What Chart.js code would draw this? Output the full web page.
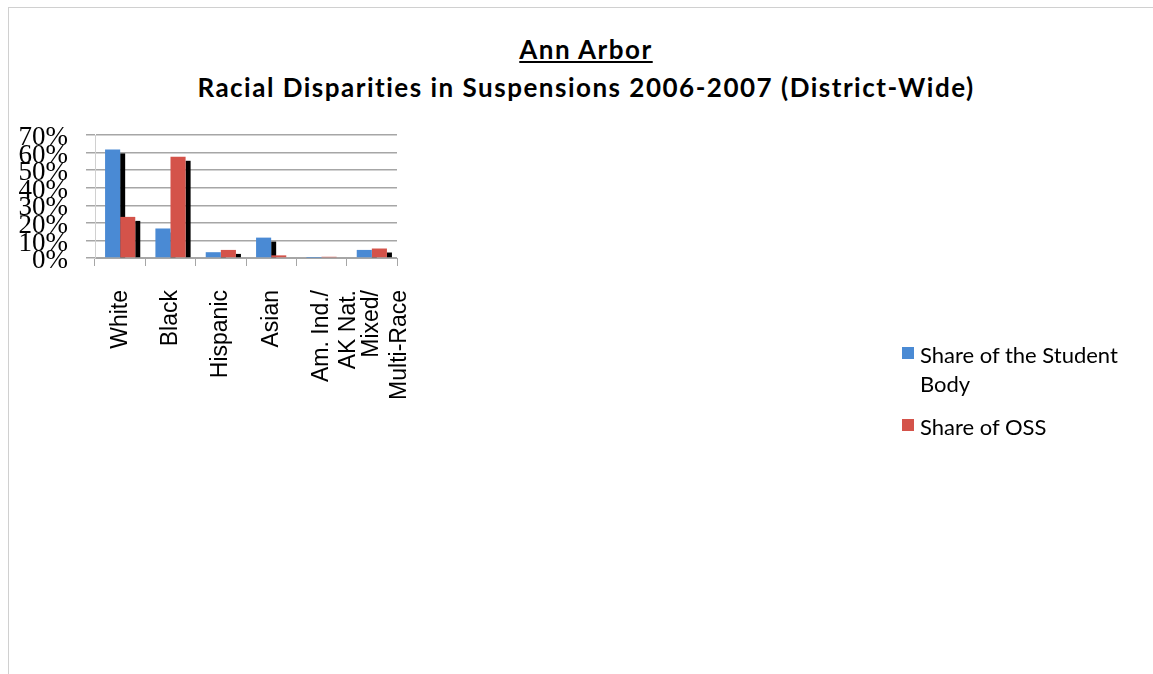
<!DOCTYPE html>
<html>
<head>
<meta charset="utf-8">
<script src="https://cdn.jsdelivr.net/npm/chart.js@4/dist/chart.umd.min.js"></script>
<style>
  html, body { margin: 0; padding: 0; background: #fff; }
  body { width: 1153px; height: 674px; position: relative; overflow: hidden; }
  #frame { position: absolute; left: 8px; top: 7px; width: 1200px; height: 700px; border: 1px solid #d0d0d0; }
  #title { position: absolute; left: 0; width: 1172px; top: 30px; text-align: center;
           font-family: Lato, "Open Sans", sans-serif; font-weight: bold; font-size: 26px; letter-spacing: 1.5px;
           line-height: 38px; color: #000; }
  #title .main { text-decoration: underline; }
  #wrap { position: absolute; left: 0; top: 0; width: 1153px; height: 398px; }
  #legend { position: absolute; left: 902px; top: 340px; width: 235px;
            font-family: Lato, "Open Sans", sans-serif; font-size: 22px; color: #000; }
  #legend .item { position: relative; padding-left: 18px; line-height: 29px; margin-bottom: 14px; }
  #legend .sw { position: absolute; left: 0; top: 7px; width: 12px; height: 12px; }
</style>
</head>
<body>
<div id="frame"></div>
<div id="title"><div class="main">Ann Arbor</div><div>Racial Disparities in Suspensions 2006-2007 (District-Wide)</div></div>
<div id="wrap"><canvas id="chart"></canvas></div>
<div id="legend"></div>
<script>
// categories and values (percent)
const categories = ['White', 'Black', 'Hispanic', 'Asian', ['Am. Ind./', 'AK Nat.'], ['Mixed/', 'Multi-Race']];
const studentBody = [61.8, 16.8, 3.3, 11.6, 0.1, 4.6];
const ossShare = [23.4, 57.6, 4.6, 1.5, 0.7, 5.4];
const yTicks = [0, 10, 20, 30, 40, 50, 60, 70];

const seriesNames = ['Share of the Student Body', 'Share of OSS'];
const seriesColors = ['#4a8ad4', '#d4534a'];

// black side face of the 3d bars
const shadowPlugin = {
  id: 'barShadow',
  beforeDatasetsDraw(chart) {
    const ctx = chart.ctx;
    ctx.save();
    ctx.fillStyle = '#000';
    chart.getSortedVisibleDatasetMetas().forEach(meta => {
      meta.data.forEach(bar => {
        const p = bar.getProps(['x', 'y', 'base', 'width'], true);
        const top = p.y + 4;
        if (p.base - top <= 0) return;
        ctx.fillRect(p.x + p.width / 2, top, 5, p.base - top);
      });
    });
    ctx.restore();
  }
};

new Chart(document.getElementById('chart'), {
  type: 'bar',
  data: {
    labels: categories,
    datasets: [
      { label: seriesNames[0], data: studentBody, backgroundColor: seriesColors[0] },
      { label: seriesNames[1], data: ossShare, backgroundColor: seriesColors[1] }
    ]
  },
  options: {
    responsive: true,
    maintainAspectRatio: false,
    animation: false,
    layout: { padding: { left: 0, right: 756, top: 135, bottom: 0 } },
    categoryPercentage: 0.6,
    barPercentage: 1.0,
    plugins: {
      legend: { display: false },
      title: { display: false },
      tooltip: { enabled: false }
    },
    scales: {
      x: {
        afterFit(scale) { scale.height = 140; },
        grid: { offset: true, drawOnChartArea: false, tickLength: 8, color: '#a6a6a6' },
        border: { color: '#a6a6a6' },
        ticks: {
          autoSkip: false, minRotation: 90, maxRotation: 90, padding: 24,
          color: '#000', font: { family: '"Liberation Sans", Arial, sans-serif', size: 23, lineHeight: 1.2 }
        }
      },
      y: {
        min: 0, max: 70,
        afterFit(scale) { scale.width = 95; },
        afterBuildTicks(scale) { scale.ticks = yTicks.map(v => ({ value: v })); },
        grid: { tickLength: 9, color: '#a6a6a6', lineWidth: 1.5 },
        border: { color: '#d0d0d0' },
        ticks: {
          autoSkip: false, padding: 18, labelOffset: 3, color: '#000',
          font: { family: '"Liberation Serif", "Times New Roman", serif', size: 27, lineHeight: 1 },
          callback: v => v + '%'
        }
      }
    }
  },
  plugins: [shadowPlugin]
});

// legend built from the same series names and colours
const legend = document.getElementById('legend');
seriesNames.forEach((name, i) => {
  const item = document.createElement('div');
  item.className = 'item';
  item.innerHTML = '<span class="sw" style="background:' + seriesColors[i] + '"></span>' + name;
  legend.appendChild(item);
});
</script>
</body>
</html>
